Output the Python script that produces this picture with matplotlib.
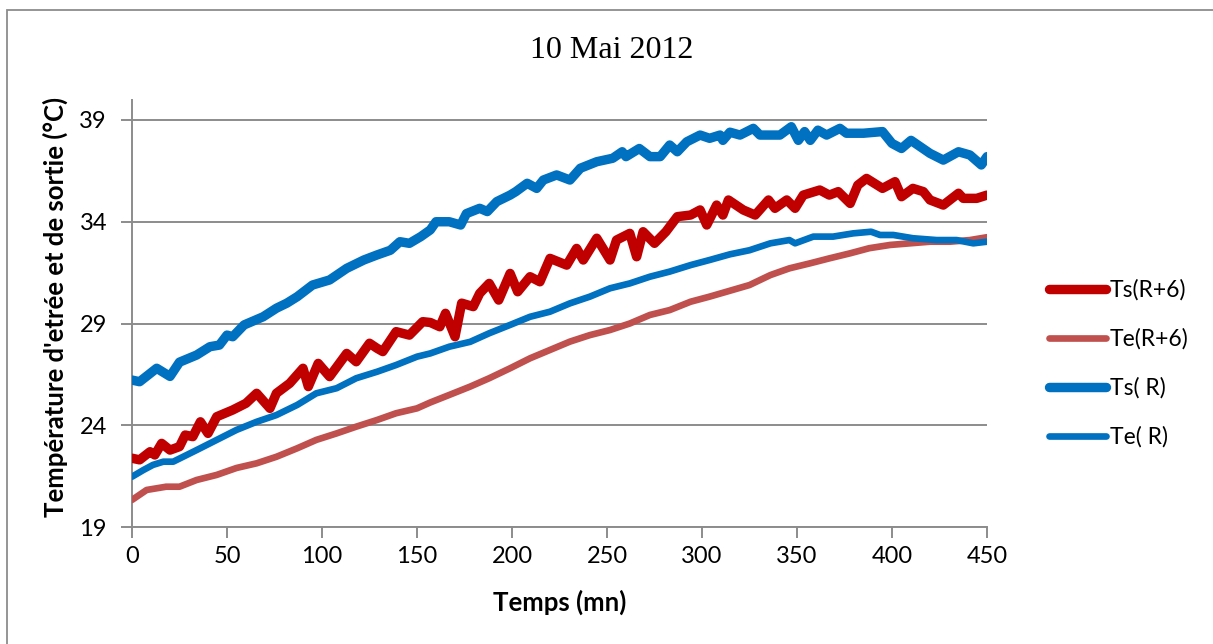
import matplotlib
matplotlib.use("Agg")
import matplotlib.pyplot as plt
from matplotlib.patches import Rectangle

# ---- data ----
t_ts_r = [0, 4, 13, 20, 25, 34, 41, 46, 50, 53, 59, 69, 76, 81.5, 87, 95, 104, 113, 122, 129, 136, 141,
          146, 152, 157, 160, 167, 173, 176, 183, 187, 192, 199, 202, 208, 213, 216.5, 223.5, 230.5, 236,
          244.6, 253, 258, 260, 267, 272.6, 278, 283, 287, 292, 299, 304, 309.5, 311, 314.7, 320, 327,
          330.5, 341, 347, 350.7, 354, 357, 361, 365.6, 372.6, 376, 385, 395, 400, 405, 410, 420, 427,
          435, 441, 447, 450]
ts_r = [26.22, 26.14, 26.8, 26.4, 27.1, 27.45, 27.86, 27.94, 28.43, 28.35, 28.93, 29.33, 29.75, 30.0,
        30.32, 30.89, 31.14, 31.71, 32.12, 32.37, 32.6, 33.02, 32.94, 33.27, 33.6, 34.0, 34.0, 33.84,
        34.4, 34.66, 34.5, 34.99, 35.31, 35.48, 35.89, 35.64, 36.05, 36.3, 36.05, 36.63, 36.95, 37.12,
        37.44, 37.2, 37.6, 37.2, 37.2, 37.77, 37.44, 37.93, 38.26, 38.1, 38.26, 38.0, 38.4, 38.26,
        38.59, 38.26, 38.26, 38.67, 38.0, 38.43, 38.0, 38.5, 38.26, 38.59, 38.35, 38.35, 38.43, 37.85,
        37.6, 38.0, 37.36, 37.03, 37.44, 37.28, 36.79, 37.2]

t_ts_r6 = [0, 4, 9.5, 12, 15.6, 20, 25, 28, 32, 36, 40, 44.6, 53, 60, 65.6, 72.6, 76, 83, 90, 92.8, 98,
           104, 113, 118, 125, 129, 132, 139, 146, 153, 157, 162, 165, 170, 173.5, 179.6, 183, 188, 193,
           199, 203, 209.5, 214.7, 220, 228.8, 234, 237.5, 244.6, 251.6, 255, 262, 265.6, 269, 275, 281,
           287, 294, 299, 302.5, 307.7, 311, 313.9, 321.7, 328, 335, 338.4, 344.6, 349, 353.3, 362, 367,
           371.7, 378, 382, 386.6, 395, 401.6, 405, 411, 416.5, 420, 427, 435, 437.5, 444.6, 450]
ts_r6 = [22.38, 22.3, 22.7, 22.54, 23.11, 22.78, 22.95, 23.52, 23.44, 24.17, 23.6, 24.42, 24.75, 25.08,
         25.57, 24.83, 25.57, 26.06, 26.8, 25.9, 27.04, 26.39, 27.53, 27.12, 28.03, 27.78, 27.62, 28.6,
         28.43, 29.09, 29.05, 28.84, 29.5, 28.35, 30.0, 29.83, 30.48, 30.97, 30.15, 31.46, 30.56, 31.3,
         31.05, 32.2, 31.87, 32.69, 32.12, 33.19, 32.12, 33.1, 33.43, 32.28, 33.51, 32.94, 33.51, 34.25,
         34.33, 34.58, 33.84, 34.82, 34.33, 35.07, 34.58, 34.33, 35.07, 34.66, 35.07, 34.66, 35.31,
         35.56, 35.31, 35.48, 34.9, 35.8, 36.13, 35.64, 35.97, 35.23, 35.64, 35.48, 35.07, 34.82, 35.4,
         35.15, 35.15, 35.31]

t_te_r = [0, 6, 11, 16.5, 21.7, 34, 44.6, 55, 65.6, 76, 87, 97, 107.7, 118, 129, 139, 150, 157, 167, 178,
          188, 199, 209.5, 220, 230.5, 241, 251.6, 262, 272.6, 283, 294, 304, 314.7, 325, 336, 346, 349,
          358.6, 369, 379.6, 389, 393.7, 400.7, 411, 423.5, 434, 442.8, 450]
te_r = [21.47, 21.8, 22.05, 22.21, 22.21, 22.78, 23.28, 23.77, 24.17, 24.5, 25.0, 25.57, 25.82, 26.31,
        26.63, 26.96, 27.37, 27.53, 27.86, 28.1, 28.52, 28.93, 29.33, 29.58, 29.99, 30.32, 30.73, 30.97,
        31.3, 31.55, 31.87, 32.12, 32.4, 32.6, 32.94, 33.1, 32.94, 33.27, 33.27, 33.43, 33.51, 33.35,
        33.35, 33.19, 33.1, 33.1, 32.94, 33.02]

t_te_r6 = [0, 7.7, 18, 25, 34, 44.6, 55, 65.6, 76, 87, 97, 107.7, 118, 129, 139, 150, 157, 167, 178, 188,
           199, 209.5, 220, 230.5, 241, 251.6, 262, 272.6, 283, 294, 304, 314.7, 325, 336, 346, 357, 367,
           378, 388, 399, 409.5, 420, 430.5, 441, 450]
te_r6 = [20.33, 20.82, 20.98, 20.98, 21.31, 21.56, 21.9, 22.13, 22.45, 22.87, 23.28, 23.6, 23.93, 24.26,
         24.59, 24.83, 25.12, 25.49, 25.9, 26.31, 26.8, 27.29, 27.7, 28.11, 28.43, 28.68, 29.0, 29.42,
         29.66, 30.07, 30.32, 30.61, 30.89, 31.38, 31.71, 31.96, 32.2, 32.45, 32.7, 32.86, 32.94, 33.02,
         33.02, 33.1, 33.24]

labels = ["Ts(R+6)", "Te(R+6)", "Ts( R)", "Te( R)"]
x_ticks = [0, 50, 100, 150, 200, 250, 300, 350, 400, 450]
y_ticks = [19, 24, 29, 34, 39]
title = "10 Mai 2012"
xlabel = "Temps (mn)"
ylabel = "Température d'etrée et de sortie (°C)"

# ---- figure ----
W, H = 1213, 644
fig = plt.figure(figsize=(W / 100, H / 100), dpi=100)
sans = ["Lato", "DejaVu Sans"]

# outer border (chart area frame)
fig.patches.append(Rectangle((7 / W, -0.05), 1.2, 1 - 10 / H + 0.05, transform=fig.transFigure,
                             fill=False, edgecolor="#8c8c8c", linewidth=1.3, zorder=0))

ax = fig.add_axes([132 / W, 1 - 527 / H, (987 - 132) / W, (527 - 100) / H])

grid_c = "#8c8c8c"
for yv in y_ticks:
    ax.axhline(yv, color=grid_c, linewidth=1.4, zorder=1)

kw = dict(solid_joinstyle="round", solid_capstyle="round", zorder=3)
ax.plot(t_ts_r6, ts_r6, color="#C00000", linewidth=6.8, label=labels[0], **kw)
ax.plot(t_te_r6, te_r6, color="#C0504D", linewidth=4.8, label=labels[1], **kw)
ax.plot(t_ts_r, ts_r, color="#0070C0", linewidth=6.8, label=labels[2], **kw)
ax.plot(t_te_r, te_r, color="#0070C0", linewidth=4.8, label=labels[3], **kw)

ax.set_xlim(0, 450)
ax.set_ylim(19, 39 + 20 / 20.35)
ax.set_xticks(x_ticks)
ax.set_yticks(y_ticks)
for s in ["top", "right"]:
    ax.spines[s].set_visible(False)
for s in ["left", "bottom"]:
    ax.spines[s].set_color(grid_c)
    ax.spines[s].set_linewidth(1.4)
ax.tick_params(axis="both", direction="out", length=8, width=1.4, color=grid_c,
               labelsize=17, pad=6)
for lab in ax.get_xticklabels() + ax.get_yticklabels():
    lab.set_fontfamily(sans)
ax.tick_params(axis="y", pad=10)

ax.set_xlabel(xlabel, fontsize=18.5, fontweight="bold", family=sans)
ax.set_ylabel(ylabel, fontsize=18.5, fontweight="bold", family=sans)
ax.xaxis.set_label_coords((560 - 132) / 855, (527 - 590) / 427)
ax.yaxis.set_label_coords((68 - 132) / 855, (527 - 307) / 427)

fig.text(612 / W, 1 - 50 / H, title, ha="center", va="center", fontsize=23,
         family=["Liberation Serif", "DejaVu Serif"])

leg = fig.legend(loc="upper left", bbox_to_anchor=(1040 / W, 1 - 270 / H), frameon=False,
                 prop={"family": sans, "size": 16.5}, handlelength=2.5, handletextpad=0.15,
                 labelspacing=1.2, borderaxespad=0)

fig.savefig("out.png", dpi=100)
